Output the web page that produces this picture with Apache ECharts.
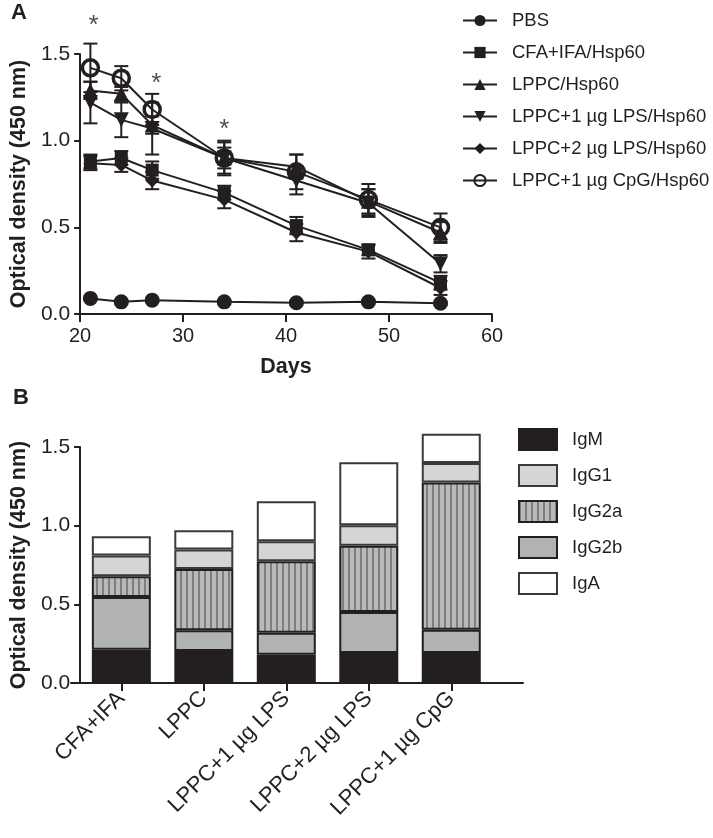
<!DOCTYPE html>
<html>
<head>
<meta charset="utf-8">
<script src="https://cdn.jsdelivr.net/npm/echarts@6/dist/echarts.min.js"></script>
<style>
html,body{margin:0;padding:0;background:#fff;}
#c{width:713px;height:838px;}
</style>
</head>
<body>
<div id="c"></div>
<script>
// ---------- Panel A data ----------
const days = [21, 24, 27, 34, 41, 48, 55];
const pbs    = [0.09, 0.07, 0.08, 0.07, 0.065, 0.07, 0.062];
const cfaIfa = [0.88, 0.90, 0.83, 0.70, 0.51, 0.37, 0.18];
const lppc   = [1.29, 1.27, 1.09, 0.90, 0.85, 0.65, 0.47];
const lps1   = [1.22, 1.12, 1.07, 0.90, 0.77, 0.64, 0.29];
const lps2   = [0.87, 0.86, 0.77, 0.66, 0.47, 0.36, 0.15];
const cpg    = [1.42, 1.36, 1.18, 0.90, 0.82, 0.66, 0.50];
const pbsErr    = [0.01, 0.01, 0.01, 0.01, 0.01, 0.01, 0.01];
const cfaIfaErr = [0.04, 0.04, 0.05, 0.04, 0.05, 0.03, 0.04];
const lppcErr   = [0.05, 0.04, 0.05, 0.06, 0.07, 0.07, 0.06];
const lps1Err   = [0.12, 0.10, 0.15, 0.09, 0.08, 0.08, 0.05];
const lps2Err   = [0.04, 0.04, 0.05, 0.05, 0.05, 0.04, 0.04];
const cpgErr    = [0.14, 0.07, 0.09, 0.10, 0.10, 0.09, 0.08];
const seriesNamesA = ['PBS', 'CFA+IFA/Hsp60', 'LPPC/Hsp60', 'LPPC+1 µg LPS/Hsp60', 'LPPC+2 µg LPS/Hsp60', 'LPPC+1 µg CpG/Hsp60'];
const stars = [[21.3, 1.66], [27.4, 1.33], [34, 1.06]];

// ---------- Panel B data ----------
const groups = ['CFA+IFA', 'LPPC', 'LPPC+1 µg LPS', 'LPPC+2 µg LPS', 'LPPC+1 µg CpG'];
const igM   = [0.212, 0.204, 0.180, 0.191, 0.191];
const igG2b = [0.335, 0.131, 0.140, 0.260, 0.148];
const igG2a = [0.131, 0.390, 0.454, 0.422, 0.935];
const igG1  = [0.132, 0.123, 0.127, 0.129, 0.125];
const igA   = [0.123, 0.123, 0.254, 0.401, 0.186];
const isotypeLegend = ['IgM', 'IgG1', 'IgG2a', 'IgG2b', 'IgA'];

const INK = '#231f20';
const FONT = "'Liberation Sans', Arial, sans-serif";

// stripe pattern for IgG2a
const pc = document.createElement('canvas');
pc.width = 6; pc.height = 10;
const pctx = pc.getContext('2d');
pctx.fillStyle = '#b9b9b9'; pctx.fillRect(0, 0, 6, 10);
pctx.fillStyle = '#7e7e7e'; pctx.fillRect(0, 0, 2, 10);
const stripe = { image: pc, repeat: 'repeat' };

const chart = echarts.init(document.getElementById('c'), null, { renderer: 'canvas' });

function errSeries(vals, errs) {
  return {
    type: 'custom', xAxisIndex: 0, yAxisIndex: 0, z: 1, silent: true,
    data: days.map((d, i) => [d, vals[i] - errs[i], vals[i] + errs[i]]),
    renderItem: function (params, api) {
      const lo = api.coord([api.value(0), api.value(1)]);
      const hi = api.coord([api.value(0), api.value(2)]);
      const hw = 7;
      const st = { stroke: INK, lineWidth: 2 };
      return {
        type: 'group', children: [
          { type: 'line', shape: { x1: lo[0], y1: lo[1], x2: hi[0], y2: hi[1] }, style: st },
          { type: 'line', shape: { x1: lo[0] - hw, y1: lo[1], x2: lo[0] + hw, y2: lo[1] }, style: st },
          { type: 'line', shape: { x1: hi[0] - hw, y1: hi[1], x2: hi[0] + hw, y2: hi[1] }, style: st }
        ]
      };
    }
  };
}

function lineSeries(name, vals, symbol, size, extra) {
  return Object.assign({
    name: name, type: 'line', xAxisIndex: 0, yAxisIndex: 0, z: 3,
    data: days.map((d, i) => [d, vals[i]]),
    symbol: symbol, symbolSize: size, showAllSymbol: true,
    lineStyle: { color: INK, width: 2 },
    itemStyle: { color: INK, borderColor: INK, borderWidth: 0 },
    emphasis: { disabled: true }
  }, extra || {});
}

function barSeries(name, vals, color, border) {
  return {
    name: name, type: 'bar', stack: 'iso', xAxisIndex: 1, yAxisIndex: 1,
    barWidth: 59, clip: false,
    data: vals,
    itemStyle: { color: color, borderColor: border || INK, borderWidth: 2 },
    emphasis: { disabled: true }
  };
}

const axisTitle = { fontSize: 21.5, fontWeight: 'bold', color: INK, fontFamily: FONT };
const tickLbl = { fontSize: 20, color: INK, fontFamily: FONT };

const option = {
  animation: false,
  backgroundColor: '#fff',
  textStyle: { fontFamily: FONT, color: INK },
  graphic: [
    { type: 'text', left: 11, top: 2, style: { text: 'A', font: 'bold 22px ' + FONT, fill: INK } },
    { type: 'text', left: 13, top: 387, style: { text: 'B', font: 'bold 22px ' + FONT, fill: INK } }
  ],
  grid: [
    { left: 74, top: 54, width: 418, height: 260 },
    { left: 71, top: 447, width: 421.5, height: 236 },
    { left: 71, top: 447, width: 452, height: 236 }
  ],
  xAxis: [
    {
      gridIndex: 0, type: 'value', min: 20, max: 60, interval: 10,
      name: 'Days', nameLocation: 'middle', nameGap: 42,
      nameTextStyle: axisTitle,
      axisLine: { show: true, onZero: false, lineStyle: { color: INK, width: 2 } },
      axisTick: { show: true, length: 8, lineStyle: { color: INK, width: 2 } },
      axisLabel: Object.assign({ margin: 12 }, tickLbl),
      splitLine: { show: false }
    },
    {
      gridIndex: 1, type: 'category', data: groups, boundaryGap: true,
      axisLine: { show: false },
      axisTick: { show: true, alignWithLabel: true, length: 8, lineStyle: { color: INK, width: 2 } },
      axisLabel: Object.assign({}, tickLbl, { rotate: 45, margin: 12, interval: 0, fontSize: 22 }),
      splitLine: { show: false }
    },
    {
      gridIndex: 2, type: 'value', min: 0, max: 1,
      axisLine: { show: true, onZero: false, lineStyle: { color: INK, width: 2 } },
      axisTick: { show: false }, axisLabel: { show: false }, splitLine: { show: false }
    }
  ],
  yAxis: [
    {
      gridIndex: 0, type: 'value', min: 0, max: 1.5, interval: 0.5,
      name: 'Optical density (450 nm)', nameLocation: 'middle', nameGap: 44,
      nameTextStyle: axisTitle,
      axisLine: { show: true, lineStyle: { color: INK, width: 2 } },
      axisTick: { show: true, length: 6, lineStyle: { color: INK, width: 2 } },
      axisLabel: Object.assign({}, tickLbl, { margin: 10, fontSize: 21, formatter: v => v.toFixed(1) }),
      splitLine: { show: false }
    },
    {
      gridIndex: 1, type: 'value', min: 0, max: 1.5, interval: 0.5,
      name: 'Optical density (450 nm)', nameLocation: 'middle', nameGap: 43,
      nameTextStyle: axisTitle,
      axisLine: { show: true, lineStyle: { color: INK, width: 2 } },
      axisTick: { show: true, length: 6, lineStyle: { color: INK, width: 2 } },
      axisLabel: Object.assign({}, tickLbl, { margin: 10, fontSize: 21, formatter: v => v.toFixed(1) }),
      splitLine: { show: false }
    },
    {
      gridIndex: 2, type: 'value', min: 0, max: 1, show: false
    }
  ],
  legend: [
    {
      data: seriesNamesA, orient: 'vertical', left: 462, top: 11, padding: 0,
      itemWidth: 34, itemHeight: 14, itemGap: 13,
      textStyle: { fontSize: 18.5, color: INK, fontFamily: FONT, padding: [0, 0, 0, 10] },
      selectedMode: false
    },
    {
      data: isotypeLegend, orient: 'vertical', left: 518, top: 428, padding: 0,
      itemWidth: 38, itemHeight: 21, itemGap: 13, icon: 'rect',
      textStyle: { fontSize: 18.5, color: INK, fontFamily: FONT, padding: [0, 0, 0, 10] },
      selectedMode: false
    }
  ],
  series: [
    errSeries(pbs, pbsErr),
    errSeries(cfaIfa, cfaIfaErr),
    errSeries(lppc, lppcErr),
    errSeries(lps1, lps1Err),
    errSeries(lps2, lps2Err),
    errSeries(cpg, cpgErr),
    lineSeries(seriesNamesA[0], pbs, 'circle', 15),
    lineSeries(seriesNamesA[1], cfaIfa, 'rect', 13),
    lineSeries(seriesNamesA[2], lppc, 'triangle', 15),
    lineSeries(seriesNamesA[3], lps1, 'triangle', 15, { symbolRotate: 180 }),
    lineSeries(seriesNamesA[4], lps2, 'diamond', 14),
    lineSeries(seriesNamesA[5], cpg, 'circle', 16, {
      itemStyle: { color: 'rgba(255,255,255,0)', borderColor: INK, borderWidth: 3.5 }
    }),
    {
      type: 'scatter', xAxisIndex: 0, yAxisIndex: 0, symbolSize: 1, silent: true, clip: false,
      itemStyle: { color: 'rgba(0,0,0,0)' },
      data: stars,
      label: { show: true, position: 'inside', formatter: '*', fontSize: 26, color: INK, fontFamily: FONT }
    },
    barSeries('IgM', igM, INK),
    barSeries('IgG2b', igG2b, '#b1b2b4'),
    barSeries('IgG2a', igG2a, stripe),
    barSeries('IgG1', igG1, '#d4d5d7', '#3a3a3a'),
    barSeries('IgA', igA, '#ffffff', '#3a3a3a')
  ]
};
chart.setOption(option);
</script>
</body>
</html>
